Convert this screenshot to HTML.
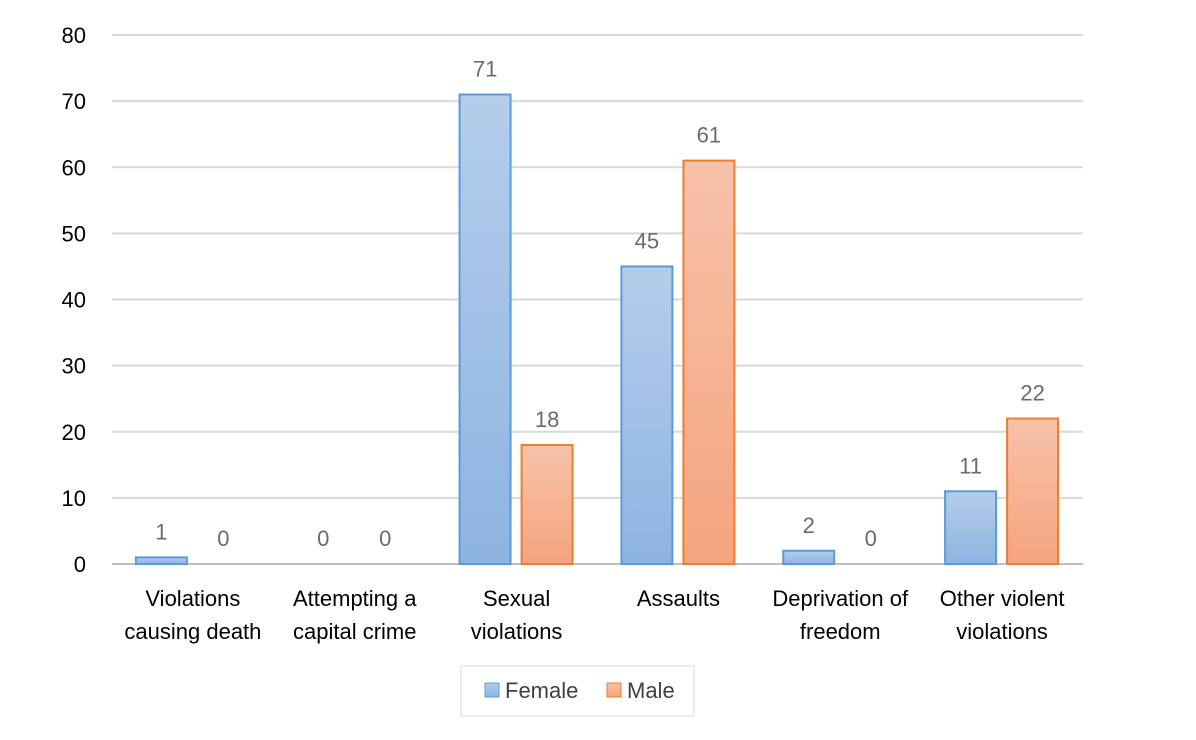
<!DOCTYPE html>
<html><head><meta charset="utf-8"><style>
body{margin:0;background:#fff;width:1196px;height:735px;overflow:hidden;font-family:"Liberation Sans",Arial,sans-serif}
</style></head><body>
<svg id="chart" width="1196" height="735" xmlns="http://www.w3.org/2000/svg">
<defs>
<linearGradient id="gf" x1="0" y1="0" x2="0" y2="1"><stop offset="0" stop-color="#b5cdea"/><stop offset="1" stop-color="#8db4e2"/></linearGradient>
<linearGradient id="gm" x1="0" y1="0" x2="0" y2="1"><stop offset="0" stop-color="#f7c2aa"/><stop offset="1" stop-color="#f4a47d"/></linearGradient>
</defs>
<g id="grid"></g><g id="bars"></g><g id="labels"></g>
<g>
<rect x="461" y="666" width="233" height="50" fill="#fff" stroke="#d9d9d9"/>
<g><rect x="485" y="683" width="14" height="14" fill="url(#gf)" stroke="#5b9bd5"/><text x="505" y="698" font-size="22" fill="#404040">Female</text></g>
<g><rect x="607" y="683" width="14" height="14" fill="url(#gm)" stroke="#ed7d31"/><text x="627" y="698" font-size="22" fill="#404040">Male</text></g>
</g>
</svg>
<script>
const categories=[["Violations","causing death"],["Attempting a","capital crime"],["Sexual","violations"],["Assaults"],["Deprivation of","freedom"],["Other violent","violations"]];
const female=[1,0,71,45,2,11];
const male=[0,0,18,61,0,22];
const ticks=[0,10,20,30,40,50,60,70,80];
const NS="http://www.w3.org/2000/svg";
const x0=112,x1=1083,y0=564,y80=35;
const y=v=>y0-(v/80)*(y0-y80);
const step=(x1-x0)/categories.length;
const cx=i=>x0+step*(i+0.5);
function mk(t,a,p,txt){const e=document.createElementNS(NS,t);for(const k in a)e.setAttribute(k,a[k]);if(txt!==undefined)e.textContent=txt;p.appendChild(e);return e;}
const G=document.getElementById('grid'),B=document.getElementById('bars'),L=document.getElementById('labels');
ticks.forEach(t=>{
 const l=mk('line',{x1:x0,x2:x1,y1:y(t),y2:y(t),stroke:t===0?'#bfbfbf':'#d9d9d9','stroke-width':2},G);
 
 
 const tx=mk('text',{x:86,y:y(t)+8,'font-size':22,fill:'#000','text-anchor':'end'},L,String(t));
 
 
});
const bw=51;
categories.forEach((c,i)=>{
 [[female[i],cx(i)-57,'url(#gf)','#5b9bd5','female'],[male[i],cx(i)+5,'url(#gm)','#ed7d31','male']].forEach(([v,bx,f,s,n])=>{
  if(v>0){const r=mk('rect',{x:bx,y:y(v),width:bw,height:y0-y(v),fill:f,stroke:s,'stroke-width':2},B);
  
  }
  const t=mk('text',{x:bx+bw/2,y:y(v)-18,'font-size':22,fill:'#6b6b6b','text-anchor':'middle'},L,String(v));
  
  
 });
 c.forEach((line,j)=>{
  const t=mk('text',{x:cx(i),y:606+j*33,'font-size':22,fill:'#000','text-anchor':'middle'},L,line);
  
  
 });
});
</script>
</body></html>
